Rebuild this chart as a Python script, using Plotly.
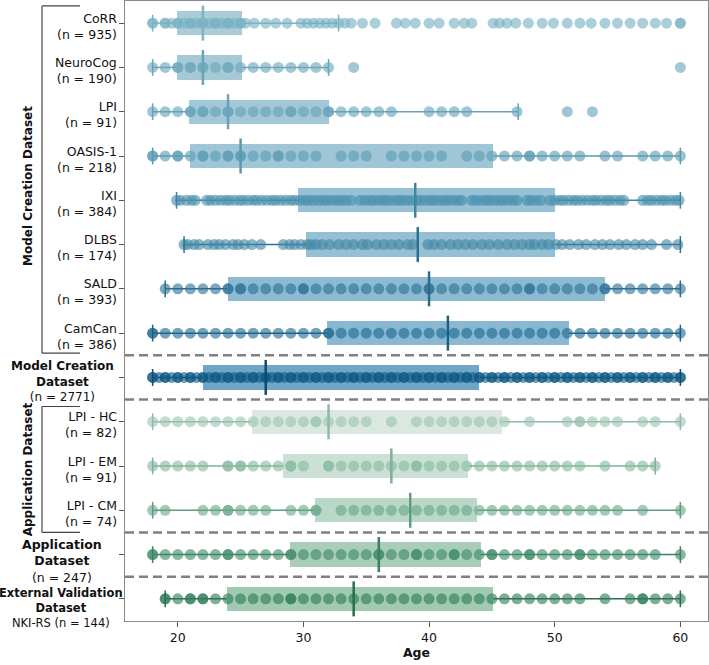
import plotly.graph_objects as go

# ---------------- data ----------------
labels = ["CoRR", "NeuroCog", "LPI", "OASIS-1", "IXI", "DLBS", "SALD", "CamCan",
          "Model Creation Dataset", "LPI - HC", "LPI - EM", "LPI - CM",
          "Application Dataset", "External Validation Dataset"]
n_counts = [935, 190, 91, 218, 384, 174, 393, 386, 2771, 82, 91, 74, 247, 144]

q1 = [19.9, 19.9, 20.9, 21.0, 29.6, 30.2, 24.0, 31.9, 22.0, 25.9, 28.4, 30.9, 28.9, 23.9]
medians = [22.0, 22.0, 24.0, 25.0, 38.9, 39.1, 40.0, 41.5, 27.0, 32.0, 37.0, 38.5, 36.0, 34.0]
q3 = [25.1, 25.1, 32.0, 45.1, 50.0, 50.0, 54.0, 51.1, 44.0, 45.8, 43.1, 43.8, 44.1, 45.1]
whisker_low = [18.0, 18.0, 18.0, 18.0, 19.9, 20.5, 19.0, 18.0, 18.0, 18.0, 18.0, 18.0, 18.0, 19.0]
whisker_high = [32.8, 32.0, 47.1, 60.0, 60.0, 60.0, 60.0, 60.0, 60.0, 60.0, 58.0, 60.0, 60.0, 60.0]

ages_corr = [18, 18, 19, 19, 19.5, 20, 20, 20.5, 21, 21, 21.5, 22, 22, 22.5, 23, 23, 23.5,
             24, 24, 24.5, 25, 25, 25.4, 26.1, 27, 27.8, 28.7, 29.8, 30.3, 30.8, 31.3, 31.8,
             32.3, 32.8, 33.3, 33.8, 34.7, 35.7, 37.4, 38.1, 38.9, 40, 40.8, 42, 42.8, 43.4,
             45.1, 45.6, 46.2, 46.9, 47.9, 49, 49.9, 51, 52, 52.9, 54, 55, 56, 57, 58, 58.9, 60, 60]
ages_neurocog = [18, 19, 20, 20, 21, 21, 22, 22, 23, 24, 24, 25, 26, 27, 28, 29, 30, 31, 32, 34, 60]
ages_lpi = [18, 19, 20, 21, 21, 22, 22, 23, 24, 24, 25, 26, 27, 28, 29, 29, 30, 31, 32, 32,
            33, 34, 35, 36, 37, 40, 41, 42, 43, 47, 51, 53]
ages_oasis = [18, 18, 19, 20, 20, 21, 22, 22, 23, 24, 24, 25, 25, 26, 27, 28, 28, 29, 30, 31,
              33, 34, 35, 37, 38, 39, 40, 41, 43, 44, 45, 46, 47, 48, 48, 49, 50, 51, 52,
              54, 55, 57, 58, 59, 60]
ages_ixi = [19.9, 20.2, 20.7, 21.1, 21.4, 22.3, 22.6, 23.0, 23.4, 23.8, 24.1, 24.5, 24.9, 25.2,
            25.6, 26.0, 26.3, 26.7, 27.1, 27.5, 27.8, 28.2, 28.6, 29.0, 29.3, 29.7, 30.1, 30.4,
            30.8, 31.2, 31.6, 31.9, 32.3, 32.7, 33.0, 33.4, 33.8, 34.5, 34.9, 35.3, 35.6, 36.0,
            36.4, 36.7, 37.1, 37.5, 37.8, 38.2, 38.6, 39.0, 39.3, 39.7, 40.1, 40.4, 40.8, 41.2,
            41.5, 41.9, 42.3, 42.6, 43.4, 43.7, 44.1, 44.5, 44.8, 45.2, 45.6, 45.9, 46.3, 46.7,
            47.0, 47.8, 48.1, 48.5, 48.9, 49.6, 50.0, 50.4, 50.7, 51.1, 51.5, 51.8, 52.2, 52.6,
            53.0, 53.3, 53.7, 54.1, 54.4, 54.8, 55.2, 55.5, 57.0, 57.4, 57.7, 58.1, 58.5, 58.8,
            59.2, 59.6, 59.9]
ages_dlbs = [20.5, 20.8, 21.3, 21.7, 22.4, 22.9, 23.3, 23.8, 24.4, 24.8, 25.3, 25.9, 26.6, 28.4,
             28.9, 29.3, 29.8, 30.3, 30.6, 31.0, 31.5, 32.1, 32.8, 33.4, 34.0, 34.7, 35.1, 35.8,
             36.4, 37.0, 37.6, 38.3, 38.7, 39.9, 40.4, 41.0, 41.7, 42.3, 42.9, 43.5, 44.2, 44.8,
             45.5, 46.2, 46.8, 47.4, 48.0, 48.4, 49.0, 49.5, 50.1, 50.6, 51.2, 51.9, 52.5, 53.2,
             53.8, 54.4, 55.1, 55.7, 56.4, 57.0, 57.7, 58.9, 59.8]
ages_sald = [19, 20, 21, 22, 23, 24, 24, 25, 25, 26, 27, 28, 29, 30, 30, 31, 32, 33, 34, 35,
             36, 37, 38, 39, 40, 40, 41, 42, 43, 44, 45, 46, 47, 48, 48, 49, 50, 51, 52, 53,
             54, 54, 55, 56, 57, 58, 59, 60]
ages_camcan = [18, 18, 19, 20, 21, 22, 23, 24, 25, 26, 27, 28, 29, 30, 31, 32, 32, 33, 34, 35,
               36, 37, 38, 39, 40, 41, 42, 43, 44, 45, 46, 47, 48, 49, 50, 51, 52, 53, 54, 55,
               56, 57, 58, 59, 60]
ages_model = [18, 18, 18.5, 19, 19, 19.5, 20, 20, 20.5, 21, 21, 21.5, 22, 22, 22.5, 23, 23,
              23.5, 24, 24, 24.5, 25, 25, 25.5, 26, 26, 26.5, 27, 27, 27.5, 28, 28, 28.5, 29,
              29, 29.5, 30, 30, 30.5, 31, 31, 31.5, 32, 32, 32.5, 33, 33, 33.5, 34, 34, 34.5,
              35, 35, 35.5, 36, 36, 36.5, 37, 37, 37.5, 38, 38, 38.5, 39, 39, 39.5, 40, 40,
              40.5, 41, 41, 41.5, 42, 42, 42.5, 43, 43, 43.5, 44, 44, 44.5, 45, 45, 45.5, 46,
              46, 46.5, 47, 47, 47.5, 48, 48, 48.5, 49, 49, 49.5, 50, 50, 50.5, 51, 51, 51.5,
              52, 52, 52.5, 53, 53, 53.5, 54, 54, 54.5, 55, 55, 55.5, 56, 56, 56.5, 57, 57,
              57.5, 58, 58, 58.5, 59, 59, 59.5, 60, 60]
ages_hc = [18, 19, 20, 21, 22, 23, 24, 25, 26, 27, 28, 29, 30, 31, 31, 32, 33, 34, 35, 37,
           39, 40, 41, 42, 43, 44, 45, 46, 48, 51, 52, 52, 53, 54, 55, 57, 58, 60]
ages_em = [18, 19, 20, 21, 22, 24, 24, 25, 25, 26, 27, 28, 29, 29, 30, 32, 32, 33, 34, 35, 36,
           37, 38, 39, 39, 40, 41, 42, 43, 44, 45, 46, 47, 48, 49, 50, 51, 52, 54, 56, 57, 58]
ages_cm = [18, 19, 22, 23, 24, 24, 25, 26, 27, 29, 30, 31, 31, 33, 34, 35, 36, 37, 38, 39, 40,
           41, 42, 43, 44, 45, 46, 47, 48, 49, 50, 51, 52, 53, 54, 55, 57, 60]
ages_app = [18, 18, 19, 20, 21, 22, 23, 24, 24, 25, 26, 27, 28, 29, 29, 30, 31, 32, 33, 34,
            35, 36, 36, 37, 38, 39, 39, 40, 41, 42, 42, 43, 44, 45, 45, 46, 47, 48, 48, 49,
            50, 51, 52, 52, 53, 54, 55, 56, 57, 58, 60]
ages_ext = [19, 19, 20, 21, 21, 22, 22, 23, 24, 25, 26, 27, 28, 29, 29, 30, 31, 32, 33, 34,
            35, 36, 37, 38, 39, 40, 41, 42, 43, 44, 45, 46, 47, 48, 49, 50, 51, 52, 54, 56,
            57, 57, 58, 59, 60]

ages_by_row = [ages_corr, ages_neurocog, ages_lpi, ages_oasis, ages_ixi, ages_dlbs, ages_sald,
               ages_camcan, ages_model, ages_hc, ages_em, ages_cm, ages_app, ages_ext]

# ---------------- styles ----------------
box_fill = ["#a9ccd8", "#a6c9d6", "#a2c7d6", "#9fc5d6", "#97c1d4", "#95c0d4", "#8cbad0",
            "#8ab8d2", "#6fa6c8", "#dbe8e1", "#cce1d5", "#b9d8c7", "#a8ceb9", "#a0cbb2"]
point_color = ["#78b1c3", "#6aa7bc", "#64a3ba", "#5a9cb5", "#4a90ae", "#4287a7", "#2d7398",
               "#1f6a91", "#0f5a84", "#9cc5b1", "#86b9a0", "#6aa88a", "#3f8a68", "#2f7c58"]
line_color = ["#7fb3c3", "#6aa3b8", "#6aa3b8", "#5b98b0", "#3e85a3", "#2c6f8e", "#2a6b8a",
              "#1c5f80", "#0e4a6c", "#8fb9a4", "#7fb097", "#5f9c7e", "#3d7f60", "#2b6e4e"]

FONT = "DejaVu Sans"
fig = go.Figure()

for i in range(len(labels)):
    fig.add_trace(go.Bar(
        y=[i], x=[q3[i] - q1[i]], base=[q1[i]], orientation="h", width=0.55,
        marker=dict(color=box_fill[i], line=dict(width=0)),
        showlegend=False, hoverinfo="skip"))

for i in range(len(labels)):
    fig.add_trace(go.Scatter(
        x=[whisker_low[i], q1[i], None, q3[i], whisker_high[i]],
        y=[i, i, None, i, i], mode="lines",
        line=dict(color=line_color[i], width=1.5),
        showlegend=False, hoverinfo="skip"))
    ages = ages_by_row[i]
    fig.add_trace(go.Scatter(
        x=ages, y=[i] * len(ages), mode="markers",
        marker=dict(size=11, color=point_color[i], opacity=0.62, line=dict(width=0)),
        showlegend=False))
    fig.add_trace(go.Scatter(
        x=[whisker_low[i], whisker_high[i]], y=[i, i], mode="markers",
        marker=dict(symbol="line-ns", size=12, line=dict(color=line_color[i], width=1.5)),
        showlegend=False, hoverinfo="skip"))
    fig.add_trace(go.Scatter(
        x=[medians[i]], y=[i], mode="markers",
        marker=dict(symbol="line-ns", size=25, line=dict(color=line_color[i], width=2.5)),
        showlegend=False, hoverinfo="skip"))

annotations = []
summary_rows = {8, 12, 13}
for i, lab in enumerate(labels):
    if i in summary_rows:
        continue
    annotations.append(dict(
        x=0, xref="paper", y=i, yref="y", xanchor="right", yanchor="middle",
        xshift=-6, yshift=-3, align="right", showarrow=False,
        text=f"{lab}<br>(n = {n_counts[i]})",
        font=dict(family=FONT, size=12.5, color="#111")))

annotations.append(dict(
    x=-0.108, xref="paper", y=8, yref="y", xanchor="center", yanchor="middle",
    showarrow=False, align="center", yshift=-4,
    text=f"<b>Model Creation<br>Dataset</b><br>(n = {n_counts[8]})",
    font=dict(family=FONT, size=12, color="#111")))
annotations.append(dict(
    x=-0.108, xref="paper", y=12, yref="y", xanchor="center", yanchor="middle",
    showarrow=False, align="center", yshift=-6,
    text=f"<b>Application<br>Dataset</b><br>(n = {n_counts[12]})",
    font=dict(family=FONT, size=12.5, color="#111")))
annotations.append(dict(
    x=-0.11, xref="paper", y=13, yref="y", xanchor="center", yanchor="middle",
    showarrow=False, align="center", yshift=-9,
    text=f"<b>External Validation<br>Dataset</b><br>NKI-RS (n = {n_counts[13]})",
    font=dict(family=FONT, size=11.5, color="#111")))

annotations.append(dict(
    x=-0.166, xref="paper", y=0.702, yref="paper", xanchor="center", yanchor="middle",
    textangle=-90, showarrow=False, text="<b>Model Creation Dataset</b>",
    font=dict(family=FONT, size=12, color="#111")))
annotations.append(dict(
    x=-0.166, xref="paper", y=0.245, yref="paper", xanchor="center", yanchor="middle",
    textangle=-90, showarrow=False, text="<b>Application Dataset</b>",
    font=dict(family=FONT, size=12, color="#111")))

shapes = []
for yy in [7.5, 8.5, 11.5, 12.5]:
    shapes.append(dict(type="line", xref="paper", x0=0, x1=1, yref="y", y0=yy, y1=yy,
                       line=dict(color="#808080", width=2.5, dash="9px,5px")))

def bracket(y_top, y_bot):
    xv, xh = -0.1424, -0.0772
    return [
        dict(type="line", xref="paper", yref="paper", x0=xv, x1=xv, y0=y_top, y1=y_bot,
             line=dict(color="#444", width=1.2)),
        dict(type="line", xref="paper", yref="paper", x0=xv, x1=xh, y0=y_top, y1=y_top,
             line=dict(color="#444", width=1.2)),
        dict(type="line", xref="paper", yref="paper", x0=xv, x1=xh, y0=y_bot, y1=y_bot,
             line=dict(color="#444", width=1.2)),
    ]

shapes += bracket(0.992, 0.432)
shapes += bracket(0.346, 0.143)

fig.update_layout(
    width=709, height=665,
    margin=dict(l=125, r=1, t=1, b=44),
    plot_bgcolor="white", paper_bgcolor="white",
    barmode="overlay", bargap=0,
    font=dict(family=FONT, size=12.5, color="#111"),
    annotations=annotations, shapes=shapes,
    xaxis=dict(range=[15.8, 62.2], tickvals=[20, 30, 40, 50, 60], ticks="outside",
               ticklen=5, tickcolor="#555", showline=True, mirror=True,
               linecolor="#8a8a8a", linewidth=1, showgrid=False, zeroline=False,
               tickfont=dict(family=FONT, size=12.5, color="#111"),
               title=dict(text="<b>Age</b>", font=dict(family=FONT, size=12.5), standoff=4)),
    yaxis=dict(range=[13.5, -0.5], tickvals=list(range(len(labels))),
               ticktext=[""] * len(labels), ticks="outside", ticklen=5, tickcolor="#555",
               showline=True, mirror=True, linecolor="#8a8a8a", linewidth=1,
               showgrid=False, zeroline=False),
)

fig.write_html("out.html", config={"displayModeBar": False},
               post_script="document.body.style.margin='0px';")
